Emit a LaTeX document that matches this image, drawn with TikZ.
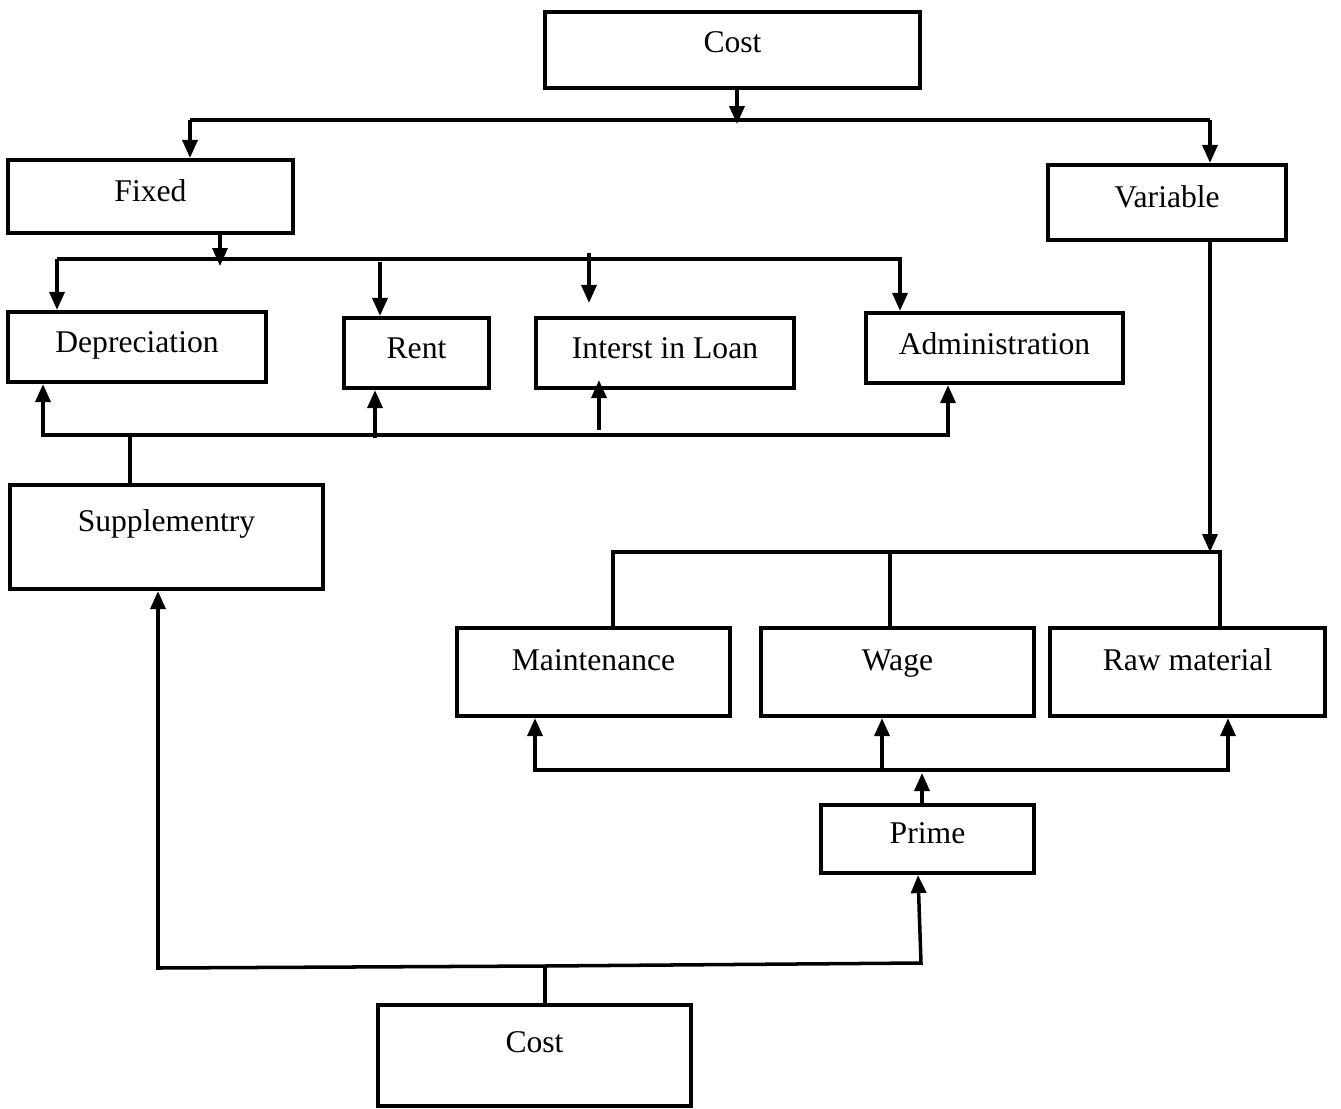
\documentclass[tikz,border=0pt]{standalone}
\usepackage{fontspec}
\setmainfont{Liberation Serif}
\usetikzlibrary{arrows.meta}

\tikzset{
  box/.style={draw, rectangle, line width=2.4pt, inner sep=0pt, text height=12pt, text depth=#1},
  box/.default=0.2cm
}

\begin{document}
\begin{tikzpicture}[x=0.02cm, y=-0.02cm, line width=2pt,
    font=\fontsize{18}{22}\selectfont,
    >={Triangle[length=0.36cm,width=0.3cm]}]
        \useasboundingbox (0,0) rectangle (1341,1108);

        % Nodes
        \node(costtop) [box=0.32cm, minimum width=7.5cm, minimum height=1.52cm] at (732.5,50) {Cost};
        \node(fixed) [box=0.22cm, minimum width=5.7cm, minimum height=1.46cm] at (150.5,196.5) {Fixed};
        \node(variable) [box=0.22cm, minimum width=4.76cm, minimum height=1.5cm] at (1167,202.5) {Variable};
        \node(depreciation) [box, minimum width=5.16cm, minimum height=1.4cm] at (137,347) {Depreciation};
        \node(rent) [box, minimum width=2.9cm, minimum height=1.4cm] at (416.5,353) {Rent};
        \node(loan) [box, minimum width=5.16cm, minimum height=1.4cm] at (665,353) {Interst in Loan};
        \node(admin) [box=0.16cm, minimum width=5.14cm, minimum height=1.4cm] at (994.5,348) {Administration};
        \node(supp) [box=0.64cm, minimum width=6.26cm, minimum height=2.08cm] at (166.5,537) {Supplementry};
        \node(maint) [box=0.48cm, minimum width=5.46cm, minimum height=1.76cm] at (593.5,672) {Maintenance};
        \node(wage) [box=0.48cm, minimum width=5.46cm, minimum height=1.76cm] at (897.5,672) {Wage};
        \node(raw) [box=0.48cm, minimum width=5.5cm, minimum height=1.76cm] at (1187.5,672) {Raw material};
        \node(prime) [box=0.24cm, minimum width=4.26cm, minimum height=1.36cm] at (927.5,839) {Prime};
        \node(costbot) [box=0.54cm, minimum width=6.26cm, minimum height=2.02cm] at (534.5,1055.5) {Cost};

        % Junctions
        \coordinate (c1) at (737,124);
        \coordinate (b1l) at (190,120);
        \coordinate (b1r) at (1210,120);
        \coordinate (f1) at (220,266);
        \coordinate (b2l) at (57,259);
        \coordinate (b2r) at (900,259);
        \coordinate (r1) at (380,262);
        \coordinate (l1) at (589,253);
        \coordinate (s1) at (130,435);
        \coordinate (b3l) at (43,435);
        \coordinate (b3r) at (948,435);
        \coordinate (r2) at (375,438);
        \coordinate (l2) at (599,430);
        \coordinate (v1) at (1210,552);
        \coordinate (m1) at (613,552);
        \coordinate (w1) at (890,552);
        \coordinate (rw1) at (1220,552);
        \coordinate (p1) at (922,773);
        \coordinate (b5l) at (535,770);
        \coordinate (b5m) at (882,770);
        \coordinate (b5r) at (1228,770);
        \coordinate (c2) at (545,966);
        \coordinate (k1) at (158,968);
        \coordinate (k2) at (921,963);
        \coordinate (k3) at (918,963);

        % Edges
        \draw[->] (costtop.south -| c1) -- (c1);
        \draw (b1l) -- (b1r);
        \draw[->] (b1l) -- (b1l |- fixed.north);
        \draw[->] (b1r) -- (b1r |- variable.north);

        \draw[->] (fixed.south -| f1) -- (f1);
        \draw[->] (b2l) -- (b2r) -- (b2r |- admin.north);
        \draw[->] (b2l) -- (b2l |- depreciation.north);
        \draw[->] (r1) -- (r1 |- rent.north);
        \draw[->, shorten >=0.26cm] (l1) -- (l1 |- loan.north);

        \draw (supp.north -| s1) -- (s1);
        \draw[->] (b3r) -- (b3l) -- (b3l |- depreciation.south);
        \draw[->] (b3l) -- (b3r) -- (b3r |- admin.south);
        \draw[->] (r2) -- (r2 |- rent.south);
        \draw[->, shorten >=-0.2cm] (l2) -- (l2 |- loan.south);

        \draw[->] (variable.south -| v1) -- (v1);
        \draw (maint.north -| m1) -- (m1) -- (rw1) -- (raw.north -| rw1);
        \draw (w1) -- (w1 |- wage.north);

        \draw[->] (prime.north -| p1) -- (p1);
        \draw[->] (b5m) -- (b5l) -- (b5l |- maint.south);
        \draw[->] (b5m) -- (b5r) -- (b5r |- raw.south);
        \draw[->] (b5m) -- (b5m |- wage.south);

        \draw (costbot.north -| c2) -- (c2);
        \draw[->] (c2) -- (k1) -- (k1 |- supp.south);
        \draw[->] (c2) -- (k2) -- (k3 |- prime.south);

    \end{tikzpicture}
\end{document}
